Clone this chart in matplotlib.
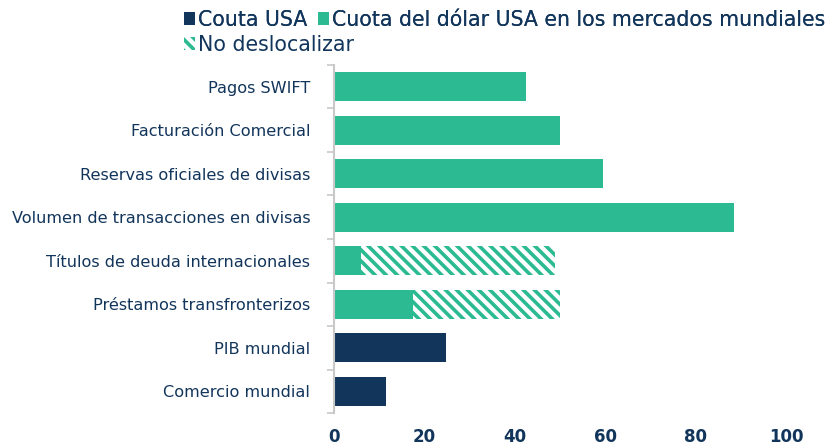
import numpy as np
import matplotlib
matplotlib.use('Agg')
import matplotlib.pyplot as plt
from matplotlib.patches import Patch

categories = ['Pagos SWIFT', 'Facturación Comercial', 'Reservas oficiales de divisas',
              'Volumen de transacciones en divisas', 'Títulos de deuda internacionales',
              'Préstamos transfronterizos', 'PIB mundial', 'Comercio mundial']
usa_share = [0, 0, 0, 0, 0, 0, 24.7, 11.5]
usd_share = [42.4, 50.0, 59.6, 88.5, 5.9, 17.5, 0, 0]
no_reloc = [0, 0, 0, 0, 43.0, 32.4, 0, 0]
xticks = [0, 20, 40, 60, 80, 100]

NAVY = '#12355b'
GREEN = '#2bba91'
GRAY = '#c8c8c8'

plt.rcParams['hatch.linewidth'] = 2.6

fig = plt.figure(figsize=(8.39, 4.48), dpi=100)
ax = fig.add_axes([0.398, 0.078, 0.539, 0.777])

y = np.arange(len(categories))
h = 0.66
ax.barh(y, usa_share, height=h, color=NAVY, linewidth=0)
ax.barh(y, usd_share, height=h, color=GREEN, linewidth=0)
ax.barh(y, no_reloc, left=usd_share, height=h, color='white', edgecolor=GREEN,
        hatch='\\\\\\', linewidth=0)

ax.set_ylim(len(categories) - 0.5, -0.5)
ax.set_xlim(0, 100)
ax.set_yticks(y)
ax.set_yticklabels(categories, fontsize=11.6, color=NAVY)
ax.tick_params(axis='y', which='major', length=0, pad=17)
ax.set_yticks(np.arange(-0.5, len(categories)), minor=True)
ax.tick_params(axis='y', which='minor', length=5, color=GRAY, width=1.2)
ax.set_xticks(xticks)
ax.set_xticklabels([str(t) for t in xticks], fontsize=12, fontweight='bold', color=NAVY)
ax.tick_params(axis='x', length=0, pad=11)
for s in ['top', 'right', 'bottom']:
    ax.spines[s].set_visible(False)
ax.spines['left'].set_color(GRAY)
ax.spines['left'].set_linewidth(1.5)

leg_kw = dict(frameon=False, fontsize=14.8, labelcolor=NAVY, handlelength=0.55,
              handleheight=0.55, handletextpad=0.15, columnspacing=0.5,
              borderaxespad=0, borderpad=0)
leg1 = fig.legend([Patch(facecolor=NAVY, linewidth=0), Patch(facecolor=GREEN, linewidth=0)],
                  ['Couta USA', 'Cuota del dólar USA en los mercados mundiales'],
                  ncol=2, loc='upper left', bbox_to_anchor=(0.219, 0.978), **leg_kw)
fig.add_artist(leg1)
fig.legend([Patch(facecolor='white', edgecolor=GREEN, hatch='\\\\\\', linewidth=0)],
           ['No deslocalizar'], loc='upper left', bbox_to_anchor=(0.219, 0.922), **leg_kw)

fig.savefig('out.png', dpi=100)
